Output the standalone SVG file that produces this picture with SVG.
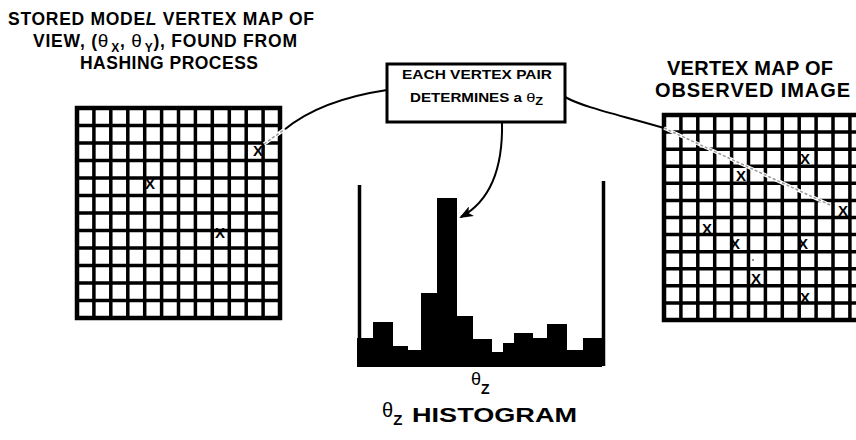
<svg xmlns="http://www.w3.org/2000/svg" width="856" height="440" viewBox="0 0 856 440">
<style>
.t{font-family:"Liberation Sans",Arial,sans-serif;font-weight:bold;fill:#000}
.n{font-family:"Liberation Sans",Arial,sans-serif;font-weight:normal;fill:#000}
.x{font-family:"Liberation Sans",Arial,sans-serif;font-size:15px;font-weight:bold;fill:#000;text-anchor:middle}
.grid{fill:none;stroke:#000;stroke-width:3.5}
.border{fill:none;stroke:#000;stroke-width:4.5}
.conn{fill:none;stroke:#000;stroke-width:2}
.erase{fill:none;stroke:#fff;stroke-width:3.5}
.dots{fill:none;stroke:#999;stroke-width:1.5;stroke-dasharray:3 2}
</style>
<defs>
<marker id="ah" markerWidth="14" markerHeight="11" refX="12" refY="5.5" orient="auto" markerUnits="userSpaceOnUse">
<path d="M0 0 L14 5.5 L0 11 L3.5 5.5 Z" fill="#000"/>
</marker>
</defs>
<rect width="856" height="440" fill="#fff"/>

<g id="title-left">
<text class="t" font-size="17.5" x="8" y="25" textLength="306" lengthAdjust="spacing">STORED MODE<tspan font-style="italic">L</tspan> VERTEX MAP OF</text>
<text class="t" font-size="17.5" x="33" y="47" textLength="264" lengthAdjust="spacing">VIEW, (<tspan class="n" font-size="19">θ</tspan><tspan font-size="12" dy="5" dx="2">X</tspan><tspan dy="-5">, </tspan><tspan class="n" font-size="19">θ</tspan><tspan font-size="12" dy="5" dx="2">Y</tspan><tspan dy="-5">), FOUND FROM</tspan></text>
<text class="t" font-size="17.5" x="80" y="69" textLength="178" lengthAdjust="spacing">HASHING PROCESS</text>
</g>

<g id="title-right">
<text class="t" font-size="20" x="667" y="75" textLength="166" lengthAdjust="spacing">VERTEX MAP OF</text>
<text class="t" font-size="20" x="655" y="97" textLength="195" lengthAdjust="spacing">OBSERVED IMAGE</text>
</g>

<g id="model-grid">
<path class="grid" d="M93.9 108V318M110.8 108V318M127.8 108V318M144.7 108V318M161.6 108V318M178.5 108V318M195.4 108V318M212.3 108V318M229.3 108V318M246.2 108V318M263.1 108V318M77 125.5H280M77 143H280M77 160.5H280M77 178H280M77 195.5H280M77 213H280M77 230.5H280M77 248H280M77 265.5H280M77 283H280M77 300.5H280"/>
<rect class="border" x="77" y="108" width="203" height="210"/>
<text class="x" x="258" y="156">X</text>
<text class="x" x="150" y="189">X</text>
<text class="x" x="220" y="238">X</text>
</g>

<g id="image-grid">
<path class="grid" d="M680.9 115V320M697.8 115V320M714.7 115V320M731.6 115V320M748.5 115V320M765.4 115V320M782.3 115V320M799.2 115V320M816.1 115V320M833 115V320M849.9 115V320M664 132.1H858M664 149.2H858M664 166.2H858M664 183.3H858M664 200.4H858M664 217.5H858M664 234.6H858M664 251.7H858M664 268.7H858M664 285.8H858M664 302.9H858"/>
<path class="border" d="M860 115H664V320H860"/>
<text class="x" x="805" y="164">X</text>
<text class="x" x="741" y="181">X</text>
<text class="x" x="843" y="216">X</text>
<text class="x" x="707" y="234">X</text>
<text class="x" x="735" y="249">X</text>
<text class="x" x="803" y="249">X</text>
<text class="x" x="756" y="284">X</text>
<text class="x" x="805" y="303">X</text>
<circle cx="753" cy="260" r="0.8" fill="#000"/>
</g>

<g id="pair-box">
<rect x="387" y="64" width="178" height="58" fill="#fff" stroke="#000" stroke-width="3"/>
<text class="t" font-size="12" x="402" y="79" textLength="150" lengthAdjust="spacingAndGlyphs">EACH VERTEX PAIR</text>
<text class="t" font-size="12" x="410" y="102" textLength="133" lengthAdjust="spacingAndGlyphs">DETERMINES a <tspan class="n" font-size="13">θ</tspan><tspan font-size="10" dy="3">Z</tspan></text>
</g>

<g id="histogram">
<path d="M357 367V338H373V322H393V346H408V350H421V293H437V198H457V316H473V339H492V352H503V343H514V333H533V338H547V324H567V350H583V338H602V367Z" fill="#000"/>
<path d="M359.5 185V366M603.5 181V366" stroke="#000" stroke-width="3.5" fill="none"/>
<text class="n" font-size="18" x="471" y="385">θ<tspan class="t" font-size="14" dy="9">Z</tspan></text>
</g>

<g id="histogram-label">
<text class="n" font-size="20" x="382" y="417">θ<tspan class="t" font-size="15" dy="8">Z</tspan></text>
<text class="t" font-size="21" x="412" y="422" textLength="165" lengthAdjust="spacingAndGlyphs">HISTOGRAM</text>
</g>

<g id="connectors">
<path class="conn" d="M284 130Q320 100 387 90"/>
<path class="erase" d="M264 144L285 129"/>
<path class="dots" d="M264 144L285 129"/>
<path class="conn" d="M565 97C585 108 620 115 664 128"/>
<path class="erase" d="M664 128L830 205"/>
<path class="dots" d="M664 128L830 205"/>
<path class="conn" stroke-width="2.5" d="M502 122C503 165 492 200 461 217" marker-end="url(#ah)"/>
</g>
</svg>
